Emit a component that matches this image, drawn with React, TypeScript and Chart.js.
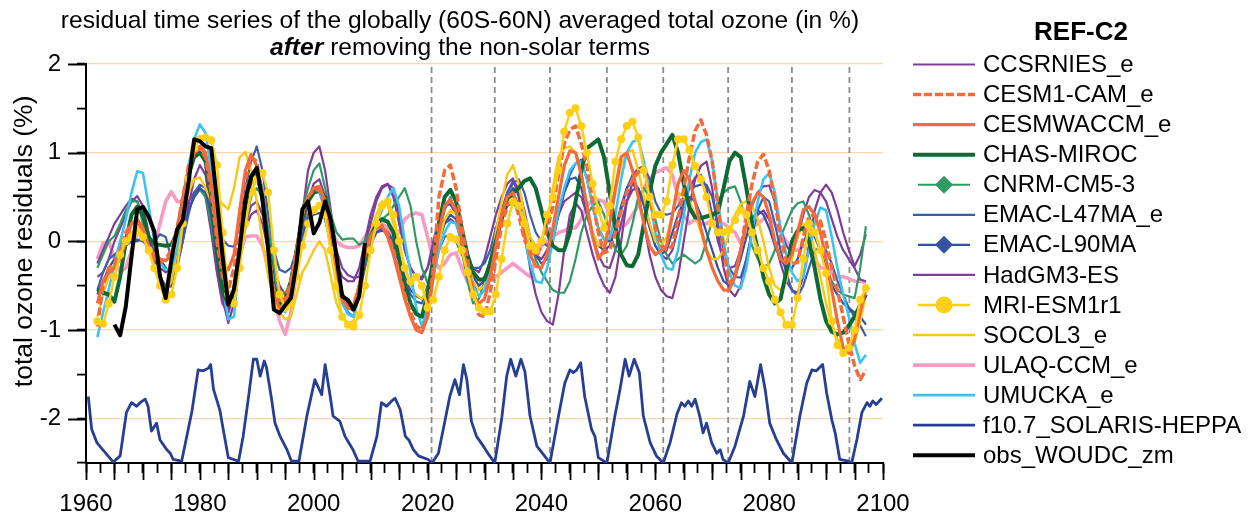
import { useEffect, useRef } from 'react';
import { Chart, registerables } from 'chart.js';

Chart.register(...registerables);

const FONT = '"Liberation Sans", Arial, Helvetica, sans-serif';

// ---------------- data ----------------
// Model residuals are annual values, first year 1962.
const MODEL_START = 1962;

const CCSRNIES_e = [
  -0.4, -0.35, -0.2, 0.0, 0.15, 0.3, 0.45, 0.51,
  0.4, 0.1, -0.2, -0.4, -0.5, -0.51, -0.3, 0.0, 0.4, 0.7,
  0.86, 0.75, 0.3, -0.2, -0.65, -0.92, -0.7, -0.2, 0.2, 0.4,
  0.45, 0.3, 0.0, -0.3, -0.5, -0.6, -0.5, -0.2, 0.3, 0.8,
  1.0, 1.07, 0.8, 0.35, -0.1, -0.3, -0.38, -0.41, -0.4, -0.1,
  0.2, 0.45, 0.6, 0.64, 0.6, 0.3, -0.1, -0.3, -0.4, -0.43,
  -0.3, 0.0, 0.25, 0.4, 0.42, 0.3, 0.0, -0.3, -0.5, -0.55,
  -0.5, -0.3, 0.0, 0.3, 0.55, 0.68, 0.6, 0.35, 0.05, -0.15,
  -0.2, -0.1, 0.1, 0.3, 0.45, 0.5, 0.55, 0.5, 0.3, 0.05,
  -0.15, -0.28, -0.3, -0.1, 0.2, 0.45, 0.58, 0.6, 0.45, 0.2,
  -0.05, -0.15, -0.2, -0.1, 0.15, 0.4, 0.6, 0.72, 0.75, 0.6,
  0.3, 0.0, -0.2, -0.3, -0.28, -0.1, 0.2, 0.4, 0.55, 0.62,
  0.63, 0.45, 0.15, -0.05, -0.13, 0.05, 0.3, 0.5, 0.58, 0.55,
  0.45, 0.25, 0.05, -0.1, -0.2, -0.3, -0.43, -0.45,
];

const CESM1_CAM_e = [
  -0.96, -0.5, -0.3, -0.25, -0.1, 0.1, 0.2, 0.24,
  0.1, -0.1, -0.2, -0.24, -0.2, -0.1, 0.15, 0.5, 0.85, 1.0,
  1.05, 0.95, 0.55, 0.0, -0.4, -0.55, -0.3, 0.2, 0.7, 0.95,
  0.9, 0.5, -0.05, -0.55, -0.7, -0.65, -0.45, -0.1, 0.3, 0.5,
  0.58, 0.58, 0.4, 0.0, -0.4, -0.6, -0.7, -0.72, -0.5, -0.15,
  0.05, 0.15, 0.18, 0.08, -0.1, -0.35, -0.6, -0.8, -0.95, -1.0,
  -0.85, -0.3, 0.5, 0.8, 0.86, 0.6, 0.17, -0.2, -0.55, -0.83,
  -0.85, -0.58, -0.2, 0.17, 0.4, 0.5, 0.3, 0.02, -0.1, -0.17,
  -0.05, 0.15, 0.39, 0.75, 1.1, 1.26, 1.3, 1.1, 0.85, 0.45,
  0.1, -0.13, -0.1, 0.1, 0.35, 0.55, 0.7, 0.78, 0.8, 0.5,
  0.15, -0.05, -0.1, -0.05, 0.25, 0.6, 0.95, 1.25, 1.37, 1.2,
  0.9, 0.4, -0.1, -0.47, -0.4, -0.1, 0.3, 0.65, 0.9, 0.98,
  0.8, 0.45, 0.05, -0.21, -0.25, -0.24, 0.05, 0.28, 0.3, 0.23,
  0.0, -0.3, -0.55, -0.85, -1.15, -1.4, -1.56, -1.45,
];

const CESMWACCM_e = [
  -0.7, -0.45, -0.35, -0.3, -0.2, 0.0, 0.2, 0.25,
  0.15, -0.05, -0.15, -0.2, -0.22, -0.15, 0.1, 0.45, 0.8, 1.0,
  1.07, 1.0, 0.65, 0.1, -0.25, -0.32, -0.15, 0.35, 0.8, 0.98,
  0.85, 0.45, -0.1, -0.6, -0.75, -0.7, -0.5, -0.1, 0.3, 0.5,
  0.6, 0.62, 0.45, 0.0, -0.4, -0.65, -0.75, -0.75, -0.5, -0.15,
  0.05, 0.15, 0.17, 0.05, -0.15, -0.4, -0.65, -0.85, -1.0, -1.03,
  -0.85, -0.4, 0.1, 0.4, 0.47, 0.35, 0.0, -0.35, -0.6, -0.7,
  -0.65, -0.4, -0.05, 0.3, 0.5, 0.55, 0.4, 0.1, -0.15, -0.28,
  -0.3, -0.15, 0.15, 0.5, 0.85, 1.02, 1.0, 0.75, 0.4, 0.05,
  -0.2, -0.1, 0.2, 0.6, 0.95, 1.0, 0.8, 0.5, 0.2, -0.05,
  -0.15, -0.1, -0.05, 0.3, 0.65, 0.8, 0.7, 0.45, 0.15, -0.1,
  -0.3, -0.45, -0.55, -0.55, -0.4, -0.1, 0.2, 0.43, 0.55, 0.5,
  0.3, 0.0, -0.2, -0.25, -0.15, 0.1, 0.36, 0.39, 0.3, 0.1,
  -0.2, -0.55, -0.9, -1.2, -1.26, -1.1, -0.8, -0.53,
];

const CHAS_MIROC = [
  -0.54, -0.58, -0.6, -0.68, -0.4, 0.0, 0.3, 0.39,
  0.3, 0.05, -0.03, -0.04, -0.05, -0.04, 0.1, 0.45, 0.75, 0.95,
  1.0, 0.9, 0.5, -0.1, -0.55, -0.72, -0.55, -0.1, 0.4, 0.7,
  0.75, 0.5, 0.0, -0.5, -0.7, -0.65, -0.45, -0.1, 0.25, 0.45,
  0.55, 0.58, 0.5, 0.1, -0.35, -0.6, -0.72, -0.75, -0.55, -0.2,
  0.05, 0.2, 0.25, 0.22, 0.1, -0.2, -0.5, -0.7, -0.82, -0.85,
  -0.6, -0.2, 0.2, 0.5, 0.58, 0.45, 0.15, -0.15, -0.35, -0.43,
  -0.43, -0.25, 0.0, 0.25, 0.45, 0.55, 0.6, 0.68, 0.71, 0.6,
  0.35, 0.1, -0.05, -0.1, -0.1, 0.1, 0.45, 0.8, 1.05, 1.1,
  1.15, 0.95, 0.55, 0.15, -0.15, -0.27, -0.28, -0.15, 0.2, 0.55,
  0.85, 1.0, 1.1, 1.2, 1.0, 0.65, 0.38, 0.27, 0.26, 0.28,
  0.3, 0.33, 0.6, 0.9, 1.0, 0.95, 0.6, 0.2, -0.1, -0.4,
  -0.6, -0.7, -0.65, -0.35, 0.0, 0.12, 0.15, 0.0, -0.3, -0.65,
  -0.9, -1.02, -1.05, -1.03, -0.95, -0.85, -0.72, -0.6,
];

const CNRM_CM5_3 = [
  -0.3, -0.15, 0.0, 0.06, 0.2, 0.35, 0.45, 0.45,
  0.2, -0.05, -0.3, -0.45, -0.51, -0.45, -0.2, 0.1, 0.35, 0.5,
  0.58, 0.5, 0.2, -0.2, -0.55, -0.7, -0.6, -0.2, 0.2, 0.5,
  0.6, 0.5, 0.15, -0.25, -0.55, -0.6, -0.45, -0.05, 0.35, 0.6,
  0.8, 0.88, 0.6, 0.3, 0.1, 0.02, 0.03, 0.03, -0.04, 0.0,
  0.1, 0.2, 0.25, 0.3, 0.4, 0.5, 0.6, 0.4, 0.0, -0.3,
  -0.47, -0.3, 0.1, 0.35, 0.5, 0.3, -0.1, -0.45, -0.7, -0.65,
  -0.45, -0.2, 0.05, 0.25, 0.4, 0.43, 0.35, 0.2, 0.0, -0.2,
  -0.35, -0.45, -0.55, -0.58, -0.58, -0.45, -0.2, 0.1, 0.3, 0.4,
  0.45, 0.3, 0.1, -0.1, -0.15, -0.05, 0.2, 0.5, 0.6, 0.5,
  0.25, 0.0, -0.15, -0.25, -0.2, -0.15, -0.2, -0.25, -0.2, 0.0,
  0.25, 0.45, 0.55, 0.6, 0.62, 0.45, 0.2, -0.05, -0.2, -0.3,
  -0.25, -0.1, 0.05, 0.2, 0.35, 0.43, 0.45, 0.3, 0.1, -0.1,
  -0.3, -0.45, -0.55, -0.6, -0.62, -0.64, -0.3, 0.17,
];

const EMAC_L47MA_e = [
  -0.55, -0.35, -0.2, -0.15, -0.1, -0.05, 0.0, 0.02,
  0.0, -0.05, 0.0, 0.08, 0.05, -0.2, -0.25, 0.0, 0.3, 0.55,
  0.64, 0.6, 0.35, 0.1, 0.02, -0.05, -0.06, 0.2, 0.6, 0.9,
  1.07, 0.8, 0.3, -0.1, -0.32, -0.35, -0.3, -0.1, 0.1, 0.3,
  0.38, 0.39, 0.3, -0.05, -0.4, -0.65, -0.8, -0.85, -0.6, -0.3,
  -0.05, 0.1, 0.15, 0.1, -0.05, -0.25, -0.45, -0.6, -0.68, -0.7,
  -0.5, -0.3, -0.1, 0.05, 0.08, 0.0, -0.15, -0.25, -0.3, -0.3,
  -0.25, -0.1, 0.15, 0.35, 0.55, 0.65, 0.7, 0.55, 0.3, 0.1,
  0.0, -0.05, 0.05, 0.3, 0.55, 0.75, 0.88, 0.92, 0.7, 0.4,
  0.15, 0.02, 0.0, 0.1, 0.35, 0.6, 0.75, 0.82, 0.85, 0.7,
  0.45, 0.32, 0.3, 0.32, 0.4, 0.5, 0.6, 0.62, 0.64, 0.64,
  0.5, 0.2, -0.1, -0.3, -0.4, -0.41, -0.2, 0.1, 0.35, 0.5,
  0.45, 0.2, -0.1, -0.35, -0.55, -0.62, -0.5, -0.3, -0.1, -0.07,
  -0.1, -0.25, -0.45, -0.6, -0.75, -0.85, -0.95, -1.07,
];

const EMAC_L90MA = [
  -0.6, -0.45, -0.3, -0.2, -0.05, 0.05, 0.02, 0.0,
  0.05, 0.0, -0.1, -0.2, -0.3, -0.35, -0.2, 0.1, 0.35, 0.5,
  0.6, 0.55, 0.3, -0.2, -0.6, -0.75, -0.6, -0.1, 0.4, 0.7,
  0.8, 0.6, 0.1, -0.4, -0.65, -0.7, -0.6, -0.3, 0.05, 0.25,
  0.3, 0.32, 0.25, -0.05, -0.4, -0.65, -0.75, -0.78, -0.55, -0.25,
  0.0, 0.1, 0.12, 0.1, 0.0, -0.2, -0.4, -0.55, -0.62, -0.65,
  -0.55, -0.3, 0.0, 0.2, 0.3, 0.25, 0.05, -0.2, -0.4, -0.5,
  -0.45, -0.25, 0.05, 0.3, 0.5, 0.6, 0.55, 0.3, 0.0, -0.15,
  -0.25, -0.2, 0.0, 0.3, 0.55, 0.7, 0.72, 0.6, 0.35, 0.1,
  -0.05, -0.1, -0.05, 0.15, 0.4, 0.6, 0.68, 0.6, 0.4, 0.15,
  -0.05, -0.15, -0.1, 0.1, 0.3, 0.45, 0.5, 0.45, 0.3, 0.1,
  -0.1, -0.3, -0.45, -0.5, -0.4, -0.2, 0.05, 0.25, 0.35, 0.3,
  0.15, -0.05, -0.2, -0.3, -0.3, -0.2, 0.0, 0.1, 0.05, -0.1,
  -0.3, -0.5, -0.6, -0.7, -0.75, -0.8, -0.85, -0.94,
];

const HadGM3_ES = [
  -0.25, -0.1, 0.05, 0.2, 0.3, 0.4, 0.48, 0.45,
  0.3, 0.0, -0.2, -0.3, -0.35, -0.3, -0.1, 0.2, 0.45, 0.55,
  0.6, 0.5, 0.1, -0.35, -0.7, -0.8, -0.6, -0.15, 0.15, 0.3,
  0.35, 0.2, -0.1, -0.4, -0.6, -0.7, -0.55, -0.25, 0.15, 0.45,
  0.65, 0.7, 0.5, 0.1, -0.25, -0.4, -0.45, -0.45, -0.3, 0.0,
  0.3, 0.5, 0.62, 0.65, 0.5, 0.2, -0.1, -0.3, -0.4, -0.4,
  -0.3, -0.1, 0.1, 0.2, 0.25, 0.2, 0.0, -0.2, -0.3, -0.35,
  -0.2, 0.05, 0.3, 0.5, 0.65, 0.71, 0.5, 0.1, -0.3, -0.6,
  -0.8, -0.9, -0.94, -0.6, -0.1, 0.3, 0.43, 0.35, 0.1, -0.15,
  -0.35, -0.5, -0.58, -0.4, 0.0, 0.45, 0.66, 0.55, 0.2, -0.15,
  -0.4, -0.55, -0.62, -0.64, -0.4, 0.0, 0.4, 0.7, 0.85, 0.9,
  0.6, 0.1, -0.3, -0.55, -0.62, -0.5, -0.2, 0.1, 0.3, 0.35,
  0.25, 0.0, -0.25, -0.45, -0.55, -0.58, -0.4, -0.05, 0.35, 0.55,
  0.64, 0.55, 0.35, 0.1, -0.1, -0.28, -0.15, 0.08,
];

const MRI_ESM1r1 = [
  -0.9, -0.93, -0.7, -0.4, -0.15, 0.0, 0.05, 0.11,
  0.05, -0.1, -0.3, -0.5, -0.66, -0.6, -0.3, 0.2, 0.7, 1.05,
  1.15, 1.17, 1.14, 0.86, 0.1, -0.6, -0.7, -0.3, 0.2, 0.55,
  0.7, 0.77, 0.55, -0.1, -0.6, -0.75, -0.7, -0.4, -0.05, 0.2,
  0.35, 0.4, 0.3, -0.1, -0.5, -0.85, -0.94, -0.96, -0.83, -0.5,
  -0.1, 0.2, 0.4, 0.45, 0.3, 0.0, -0.3, -0.45, -0.4, -0.5,
  -0.75, -0.66, -0.4, -0.1, 0.05, 0.02, -0.1, -0.35, -0.6, -0.75,
  -0.79, -0.79, -0.6, -0.2, 0.2, 0.45, 0.4, 0.2, -0.05, -0.1,
  0.0, 0.3, 0.5, 0.8, 1.24, 1.45, 1.5, 1.3, 1.0, 0.65,
  0.35, 0.15, 0.4, 0.9, 1.15, 1.3, 1.35, 1.17, 0.8, 0.5,
  0.3, 0.3, 0.45, 0.86, 1.15, 1.15, 1.03, 0.85, 0.7, 0.5,
  0.2, 0.1, 0.1, 0.13, 0.24, 0.35, 0.3, 0.1, -0.1, -0.3,
  -0.45, -0.66, -0.8, -0.94, -0.94, -0.64, -0.2, 0.2, 0.1, -0.1,
  -0.36, -0.9, -1.17, -1.26, -1.2, -1.0, -0.66, -0.53,
];

const SOCOL3_e = [
  -0.85, -0.6, -0.4, -0.25, -0.1, 0.05, 0.1, 0.15,
  0.1, -0.1, -0.3, -0.45, -0.55, -0.45, -0.1, 0.3, 0.55, 0.7,
  0.72, 0.6, 0.45, 0.51, 0.42, 0.36, 0.6, 0.95, 1.01, 0.8,
  0.45, 0.0, -0.4, -0.65, -0.8, -0.88, -0.85, -0.6, -0.35, -0.24,
  -0.1, 0.0, -0.1, -0.4, -0.7, -0.85, -0.92, -0.9, -0.6, -0.2,
  0.1, 0.3, 0.45, 0.4, 0.2, -0.05, -0.3, -0.5, -0.6, -0.65,
  -0.55, -0.3, 0.0, 0.25, 0.35, 0.3, 0.1, -0.2, -0.45, -0.55,
  -0.5, -0.3, 0.1, 0.45, 0.75, 0.86, 0.65, 0.3, 0.05, -0.05,
  0.0, 0.2, 0.6, 0.95, 1.05, 1.07, 1.0, 0.8, 0.4, 0.1,
  -0.05, 0.0, 0.2, 0.55, 0.85, 1.0, 1.03, 0.8, 0.5, 0.2,
  0.0, -0.05, 0.05, 0.3, 0.55, 0.5, 0.45, 0.3, 0.1, -0.1,
  -0.2, -0.2, -0.1, 0.1, 0.3, 0.42, 0.45, 0.4, 0.25, 0.0,
  -0.3, -0.5, -0.55, -0.45, -0.2, 0.05, 0.2, 0.15, -0.1, -0.4,
  -0.7, -0.95, -1.1, -1.2, -1.25, -1.15, -0.9, -0.6,
];

const ULAQ_CCM_e = [
  -0.2, -0.02, 0.0, -0.2, -0.35, -0.3, -0.1, 0.1,
  0.05, -0.1, -0.05, 0.2, 0.45, 0.56, 0.45, 0.45, 0.8, 1.1,
  1.18, 0.9, 0.3, -0.3, -0.7, -0.8, -0.55, -0.15, 0.05, 0.06,
  0.06, -0.05, -0.3, -0.6, -0.9, -1.05, -0.8, -0.35, 0.1, 0.45,
  0.55, 0.6, 0.4, 0.15, 0.0, -0.05, -0.07, -0.07, -0.05, 0.05,
  0.15, 0.18, 0.2, 0.15, 0.05, 0.1, 0.25, 0.3, 0.32, 0.3,
  0.05, -0.2, -0.3, -0.25, -0.15, -0.13, -0.3, -0.45, -0.55, -0.5,
  -0.4, -0.35, -0.4, -0.35, -0.3, -0.25, -0.3, -0.35, -0.4, -0.2,
  -0.05, 0.0, 0.05, 0.1, 0.12, 0.15, 0.15, 0.25, 0.4, 0.47,
  0.47, 0.45, 0.3, 0.2, 0.15, 0.2, 0.3, 0.4, 0.6, 0.7,
  0.78, 0.8, 0.83, 0.75, 0.5, 0.3, 0.2, 0.25, 0.2, 0.2,
  0.24, 0.22, 0.2, 0.15, 0.1, -0.02, 0.1, 0.15, 0.2, 0.25,
  0.28, 0.2, 0.1, 0.0, -0.1, -0.1, -0.05, -0.1, -0.2, -0.3,
  -0.3, -0.35, -0.4, -0.4, -0.42, -0.45, -0.45, -0.47,
];

const UMUCKA_e = [
  -1.08, -0.8, -0.54, -0.25, 0.0, 0.25, 0.55, 0.79,
  0.77, 0.4, 0.0, -0.24, -0.32, -0.3, -0.1, 0.3, 0.85, 1.15,
  1.32, 1.22, 0.8, 0.2, -0.5, -0.88, -0.85, -0.15, 0.45, 0.75,
  0.8, 0.6, 0.1, -0.4, -0.75, -0.8, -0.65, -0.2, 0.2, 0.5,
  0.55, 0.55, 0.35, -0.1, -0.45, -0.7, -0.82, -0.85, -0.6, -0.25,
  0.05, 0.2, 0.35, 0.5, 0.6, 0.4, 0.0, -0.35, -0.75, -0.96,
  -0.75, -0.4, -0.1, 0.1, 0.22, 0.2, 0.0, -0.3, -0.5, -0.62,
  -0.55, -0.3, 0.0, 0.25, 0.45, 0.51, 0.4, 0.05, -0.25, -0.45,
  -0.47, -0.3, 0.0, 0.35, 0.6, 0.8, 0.88, 0.9, 0.7, 0.4,
  0.15, 0.02, 0.03, 0.3, 0.7, 1.0, 1.12, 1.15, 0.9, 0.5,
  0.1, -0.15, -0.3, -0.32, -0.1, 0.3, 0.7, 1.0, 1.12, 1.15,
  0.9, 0.45, 0.0, -0.35, -0.5, -0.53, -0.3, 0.1, 0.45, 0.7,
  0.77, 0.55, 0.15, -0.15, -0.35, -0.45, -0.4, -0.1, 0.2, 0.38,
  0.35, 0.05, -0.3, -0.6, -0.85, -1.15, -1.37, -1.28,
];

// WOUDC zonal-mean observations, annual values, first year 1965.
const OBS_START = 1965;
const obs_WOUDC_zm = [
  -0.94, -1.06, -0.73, -0.17, 0.36, 0.39, 0.28, 0.11, -0.39, -0.64,
  -0.21, 0.13, 0.24, 0.66, 1.15, 1.13, 1.07, 1.05, 0.47, -0.17,
  -0.71, -0.54, -0.09, 0.47, 0.73, 0.83, 0.47, -0.09, -0.77, -0.81,
  -0.72, -0.64, -0.24, 0.36, 0.45, 0.09, 0.21, 0.45, 0.24, -0.17,
  -0.62, -0.66, -0.77, -0.62, -0.02,
];

// Scaled f10.7 solar flux (SOLARIS-HEPPA), in residual-axis units.
const SOLAR_YEARS = [
  1960.4, 1961.0, 1961.9, 1963.6, 1964.8, 1966.0, 1967.1, 1968.0, 1968.9, 1969.5,
  1970.4, 1970.9, 1971.5, 1972.4, 1973.0, 1974.2, 1974.8, 1975.3, 1976.8, 1978.6,
  1979.7, 1980.6, 1981.5, 1981.9, 1982.4, 1983.5, 1984.1, 1985.0, 1986.8, 1987.6,
  1988.5, 1989.4, 1990.0, 1990.6, 1991.3, 1991.7, 1992.6, 1993.2, 1994.1, 1995.3,
  1996.1, 1997.4, 1998.8, 2000.2, 2001.4, 2002.0, 2002.9, 2003.4, 2004.6, 2005.5,
  2006.9, 2007.8, 2009.9, 2011.1, 2011.9, 2012.8, 2013.7, 2014.3, 2015.2, 2016.1,
  2016.7, 2017.5, 2018.4, 2020.1, 2020.8, 2021.9, 2023.1, 2023.9, 2024.8, 2025.6,
  2026.3, 2026.9, 2027.7, 2028.6, 2029.8, 2030.7, 2031.8, 2033.0, 2033.9, 2034.6,
  2035.5, 2036.4, 2037.1, 2038.0, 2039.2, 2040.3, 2041.5, 2043.0, 2044.1, 2045.0,
  2045.6, 2046.2, 2046.9, 2047.6, 2048.8, 2049.4, 2050.0, 2051.5, 2052.9, 2053.8,
  2054.7, 2055.4, 2056.3, 2057.2, 2057.9, 2059.1, 2060.2, 2061.4, 2062.6, 2063.8,
  2064.6, 2065.2, 2065.8, 2066.4, 2067.0, 2067.8, 2068.4, 2069.0, 2069.9, 2070.8,
  2071.4, 2071.9, 2072.8, 2074.0, 2075.5, 2076.6, 2077.5, 2078.5, 2079.3, 2080.1,
  2081.3, 2082.5, 2084.0, 2085.4, 2086.6, 2087.5, 2088.3, 2089.4, 2090.1, 2091.0,
  2091.6, 2092.4, 2093.9, 2094.5, 2095.4, 2096.3, 2097.2, 2097.7, 2098.2, 2098.8,
  2099.8,
];
const SOLAR_VALUES = [
  -1.75, -2.12, -2.27, -2.4, -2.49, -2.42, -1.93, -1.82, -1.86, -1.82,
  -1.78, -1.86, -2.14, -2.05, -2.24, -2.35, -2.39, -2.46, -2.48, -1.92,
  -1.45, -1.46, -1.43, -1.39, -1.67, -1.9, -2.12, -2.44, -2.48, -2.2,
  -1.78, -1.33, -1.33, -1.52, -1.35, -1.42, -1.78, -2.05, -2.2, -2.35,
  -2.48, -2.48, -1.97, -1.56, -1.73, -1.39, -1.75, -1.97, -2.03, -2.2,
  -2.35, -2.48, -2.48, -2.2, -1.82, -1.86, -1.8, -1.77, -1.9, -2.2,
  -2.24, -2.35, -2.42, -2.46, -2.5, -2.39, -2.01, -1.75, -1.56, -1.73,
  -1.39, -1.56, -2.03, -2.2, -2.31, -2.4, -2.5, -2.01, -1.52, -1.33,
  -1.52, -1.33, -1.47, -1.97, -2.31, -2.4, -2.5, -1.97, -1.6, -1.45,
  -1.48, -1.45, -1.37, -1.75, -2.12, -2.2, -2.44, -2.5, -1.97, -1.67,
  -1.33, -1.52, -1.33, -1.48, -1.97, -2.27, -2.42, -2.5, -2.27, -1.95,
  -1.82, -1.86, -1.8, -1.86, -1.78, -1.97, -2.16, -2.05, -2.27, -2.39,
  -2.35, -2.46, -2.5, -2.31, -1.97, -1.58, -1.75, -1.39, -1.67, -2.05,
  -2.24, -2.39, -2.5, -1.97, -1.6, -1.45, -1.46, -1.39, -1.71, -2.01,
  -2.16, -2.46, -2.48, -2.5, -2.24, -1.93, -1.82, -1.86, -1.8, -1.84,
  -1.77,
];

// Years of solar minima marked with dashed verticals.
const MINIMA_YEARS = [2020.7, 2031.8, 2041.5, 2051.5, 2061.4, 2072.8, 2084.0, 2094.1];

const X_TICK_LABELS = ['1960', '1980', '2000', '2020', '2040', '2060', '2080', '2100'];
const Y_TICK_LABELS = ['-2', '-1', '0', '1', '2'];

// ---------------- styles ----------------
type Marker = 'diamond' | 'circle' | undefined;
interface SeriesStyle { color: string; width: number; dash?: number[]; marker?: Marker; pointRadius?: number; order: number }

const STYLES: Record<string, SeriesStyle> = {
  'CCSRNIES_e': { color: '#7e3f9b', width: 2.2, order: 18 },
  'CESM1-CAM_e': { color: '#f26b3c', width: 3.5, dash: [8, 3], order: 10 },
  'CESMWACCM_e': { color: '#f26b3c', width: 3.2, order: 11 },
  'CHAS-MIROC': { color: '#0d6a35', width: 4, order: 12 },
  'CNRM-CM5-3': { color: '#2f9b62', width: 2.2, marker: 'diamond', order: 17 },
  'EMAC-L47MA_e': { color: '#3d5eb0', width: 2.2, order: 16 },
  'EMAC-L90MA': { color: '#3451a2', width: 2.2, marker: 'diamond', order: 15 },
  'HadGM3-ES': { color: '#7c3c97', width: 2.2, order: 19 },
  'MRI-ESM1r1': { color: '#fdd017', width: 2.5, marker: 'circle', pointRadius: 4, order: 9 },
  'SOCOL3_e': { color: '#f7c815', width: 2.4, order: 14 },
  'ULAQ-CCM_e': { color: '#f49cc4', width: 3.6, order: 20 },
  'UMUCKA_e': { color: '#3dc3f1', width: 2.6, order: 13 },
  'f10.7_SOLARIS-HEPPA': { color: '#273f93', width: 2.8, order: 50 },
  'obs_WOUDC_zm': { color: '#000000', width: 4, order: 0 },
};

const MODEL_SERIES: [string, number[]][] = [
  ['CCSRNIES_e', CCSRNIES_e],
  ['CESM1-CAM_e', CESM1_CAM_e],
  ['CESMWACCM_e', CESMWACCM_e],
  ['CHAS-MIROC', CHAS_MIROC],
  ['CNRM-CM5-3', CNRM_CM5_3],
  ['EMAC-L47MA_e', EMAC_L47MA_e],
  ['EMAC-L90MA', EMAC_L90MA],
  ['HadGM3-ES', HadGM3_ES],
  ['MRI-ESM1r1', MRI_ESM1r1],
  ['SOCOL3_e', SOCOL3_e],
  ['ULAQ-CCM_e', ULAQ_CCM_e],
  ['UMUCKA_e', UMUCKA_e],
];

const LEGEND_ORDER = [
  'CCSRNIES_e', 'CESM1-CAM_e', 'CESMWACCM_e', 'CHAS-MIROC', 'CNRM-CM5-3',
  'EMAC-L47MA_e', 'EMAC-L90MA', 'HadGM3-ES', 'MRI-ESM1r1', 'SOCOL3_e',
  'ULAQ-CCM_e', 'UMUCKA_e', 'f10.7_SOLARIS-HEPPA', 'obs_WOUDC_zm',
];

const TITLE_LINE1 = 'residual time series of the globally (60S-60N) averaged total ozone (in %)';
const TITLE_LINE2_EMPH = 'after';
const TITLE_LINE2_REST = ' removing the non-solar terms';
const Y_TITLE = 'total ozone residuals (%)';
const LEGEND_TITLE = 'REF-C2';

function lineDataset(label: string, points: { x: number; y: number | null }[]) {
  const s = STYLES[label];
  return {
    label,
    data: points,
    borderColor: s.color,
    backgroundColor: s.color,
    borderWidth: s.width,
    borderDash: s.dash || [],
    borderJoinStyle: 'round' as const,
    borderCapStyle: 'butt' as const,
    pointRadius: s.pointRadius || 0,
    pointBackgroundColor: s.color,
    pointBorderWidth: 0,
    tension: 0,
    fill: false,
    order: s.order,
  };
}

const decorPlugin = {
  id: 'decor',
  afterDraw(chart: any) {
    const { ctx } = chart;
    const xs = chart.scales.x;
    const ys = chart.scales.y;
    ctx.save();

    // longer marks for major ticks
    ctx.strokeStyle = '#000';
    ctx.lineWidth = 1.8;
    ctx.beginPath();
    for (const t of xs.ticks) {
      if (Math.abs(t.value % 5) < 1e-6) {
        const px = Math.round(xs.getPixelForValue(t.value)) + 0.5;
        ctx.moveTo(px, ys.bottom);
        ctx.lineTo(px, ys.bottom + 17);
      }
    }
    for (const t of ys.ticks) {
      if (Number.isInteger(t.value)) {
        const py = Math.round(ys.getPixelForValue(t.value)) + 0.5;
        ctx.moveTo(xs.left - 18, py);
        ctx.lineTo(xs.left, py);
      }
    }
    ctx.stroke();

    // title
    ctx.fillStyle = '#000';
    ctx.textBaseline = 'middle';
    ctx.textAlign = 'center';
    const tcx = 460;
    const tFont = `24.6px ${FONT}`;
    const tFontEmph = `italic bold 24.6px ${FONT}`;
    ctx.font = tFont;
    ctx.fillText(TITLE_LINE1, tcx, 21);
    ctx.font = tFontEmph;
    const w1 = ctx.measureText(TITLE_LINE2_EMPH).width;
    ctx.font = tFont;
    const w2 = ctx.measureText(TITLE_LINE2_REST).width;
    const start = tcx - (w1 + w2) / 2;
    ctx.textAlign = 'left';
    ctx.font = tFontEmph;
    ctx.fillText(TITLE_LINE2_EMPH, start, 48);
    ctx.font = tFont;
    ctx.fillText(TITLE_LINE2_REST, start + w1, 48);

    // y-axis title
    ctx.save();
    ctx.translate(25, ys.getPixelForValue(0));
    ctx.rotate(-Math.PI / 2);
    ctx.textAlign = 'center';
    ctx.font = `26.5px ${FONT}`;
    ctx.fillText(Y_TITLE, 0, 0);
    ctx.restore();

    // legend
    ctx.textAlign = 'center';
    ctx.font = `bold 26px ${FONT}`;
    ctx.fillText(LEGEND_TITLE, 1081, 33);
    ctx.font = `24px ${FONT}`;
    ctx.textAlign = 'left';
    LEGEND_ORDER.forEach((name, i) => {
      const s = STYLES[name];
      const cy = 64.5 + i * 30.06;
      const hasMarker = !!s.marker;
      const x0 = hasMarker ? 918 : 913;
      const x1 = hasMarker ? 970 : 975;
      ctx.strokeStyle = s.color;
      ctx.lineWidth = s.width;
      ctx.setLineDash(s.dash || []);
      ctx.beginPath();
      ctx.moveTo(x0, cy);
      ctx.lineTo(x1, cy);
      ctx.stroke();
      ctx.setLineDash([]);
      if (s.marker === 'diamond') {
        ctx.fillStyle = s.color;
        ctx.beginPath();
        ctx.moveTo(944, cy - 9);
        ctx.lineTo(953, cy);
        ctx.lineTo(944, cy + 9);
        ctx.lineTo(935, cy);
        ctx.closePath();
        ctx.fill();
      } else if (s.marker === 'circle') {
        ctx.fillStyle = s.color;
        ctx.beginPath();
        ctx.arc(944, cy, 8.5, 0, Math.PI * 2);
        ctx.fill();
      }
      ctx.fillStyle = '#000';
      ctx.fillText(name, 983, cy + 1);
    });
    ctx.restore();
  },
};

export default function App() {
  const canvasRef = useRef<HTMLCanvasElement | null>(null);

  useEffect(() => {
    const canvas = canvasRef.current;
    if (!canvas) return;

    const datasets: any[] = [];

    const minimaPoints: { x: number; y: number | null }[] = [];
    MINIMA_YEARS.forEach((yr) => {
      minimaPoints.push({ x: yr, y: -2.5 }, { x: yr, y: 2 }, { x: yr, y: null });
    });
    datasets.push({
      label: 'solar minima',
      data: minimaPoints,
      borderColor: '#8c8c8c',
      borderWidth: 1.8,
      borderDash: [6, 4],
      pointRadius: 0,
      spanGaps: false,
      order: 100,
    });

    datasets.push(
      lineDataset(
        'f10.7_SOLARIS-HEPPA',
        SOLAR_YEARS.map((yr, i) => ({ x: yr, y: SOLAR_VALUES[i] })),
      ),
    );

    MODEL_SERIES.forEach(([name, vals]) => {
      datasets.push(lineDataset(name, vals.map((v, i) => ({ x: MODEL_START + i, y: v }))));
    });

    datasets.push(
      lineDataset('obs_WOUDC_zm', obs_WOUDC_zm.map((v, i) => ({ x: OBS_START + i, y: v }))),
    );

    const chart = new Chart(canvas, {
      type: 'line',
      data: { datasets },
      plugins: [decorPlugin],
      options: {
        animation: false,
        responsive: false,
        devicePixelRatio: 1,
        layout: { padding: { top: 64, right: 371, left: 0, bottom: 0 } },
        plugins: {
          legend: { display: false },
          tooltip: { enabled: false },
          title: { display: false },
        },
        elements: { line: { tension: 0 }, point: { radius: 0 } },
        scales: {
          x: {
            type: 'linear',
            min: 1960,
            max: 2100,
            ticks: {
              stepSize: 2.5,
              autoSkip: false,
              maxRotation: 0,
              color: '#000',
              padding: 17,
              font: { family: FONT, size: 24 },
              callback: (v: any) => {
                const s = String(v);
                return X_TICK_LABELS.includes(s) ? s : '';
              },
            },
            grid: {
              drawOnChartArea: false,
              drawTicks: true,
              tickLength: 10,
              tickColor: '#000',
              tickWidth: 1.8,
            },
            border: { color: '#000', width: 2 },
            afterFit: (scale: any) => {
              scale.height = 54;
            },
          },
          y: {
            type: 'linear',
            min: -2.5,
            max: 2,
            ticks: {
              stepSize: 0.5,
              autoSkip: false,
              color: '#000',
              padding: 16,
              font: { family: FONT, size: 24 },
              callback: (v: any) => {
                const s = String(v);
                return Y_TICK_LABELS.includes(s) ? s : '';
              },
            },
            grid: {
              color: (c: any) =>
                c.tick && Number.isInteger(c.tick.value) ? '#fcd6b2' : 'rgba(0,0,0,0)',
              lineWidth: 1.2,
              drawTicks: true,
              tickLength: 9,
              tickColor: '#000',
              tickWidth: 1.8,
            },
            border: { color: '#000', width: 2 },
            afterFit: (scale: any) => {
              scale.width = 86;
            },
          },
        },
      },
    });

    return () => {
      chart.destroy();
    };
  }, []);

  return (
    <div
      style={{
        position: 'absolute',
        left: 0,
        top: 0,
        width: 1254,
        height: 517,
        background: '#ffffff',
        overflow: 'hidden',
      }}
    >
      <canvas ref={canvasRef} width={1254} height={517} style={{ display: 'block' }} />
    </div>
  );
}
